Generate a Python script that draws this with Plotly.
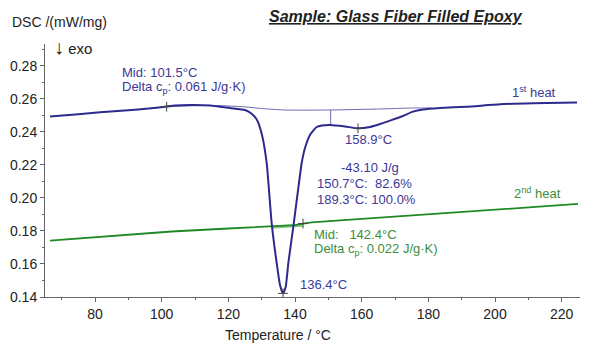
import plotly.graph_objects as go

# ---- data ----
heat1_T = [66.5, 75, 81.5, 90, 96, 101, 104, 108.5, 114.5, 120.5, 125, 127.1, 128.6, 130.1, 131.5,
           133.0, 134.5, 135.5, 136.4, 137.2, 138.0, 139.5, 141.0, 142.0, 143.0, 144.5, 146.5,
           148.1, 150.5, 155.0, 158.9, 162.5, 165.5, 169.1, 172.4, 175.4, 178.4, 183.5, 191.5,
           201.5, 211.4, 224.6]
heat1_v = [0.2493, 0.2507, 0.2519, 0.2532, 0.2542, 0.2553, 0.2560, 0.2564, 0.2561, 0.2545, 0.2533,
           0.2509, 0.2473, 0.2382, 0.2212, 0.1848, 0.1606, 0.1473, 0.1422, 0.1460, 0.1606,
           0.1826, 0.2061, 0.2212, 0.2303, 0.2382, 0.2430, 0.2439, 0.2442, 0.2433, 0.2422,
           0.2430, 0.2448, 0.2473, 0.2497, 0.2523, 0.2536, 0.2545, 0.2553, 0.2568, 0.2574, 0.2578]

base1_T = [101.0, 115.0, 125.0, 130.0, 137.0, 150.0, 165.0, 175.0, 181.0]
base1_v = [0.2553, 0.2561, 0.2552, 0.2542, 0.2533, 0.2533, 0.2539, 0.2545, 0.2545]

partial_T = [150.7, 150.7]
partial_v = [0.2533, 0.2442]

heat2_T = [66.5, 85, 103, 120, 133, 140, 142.4, 145, 160, 180, 200, 224.9]
heat2_v = [0.1741, 0.1768, 0.1797, 0.1815, 0.1828, 0.1836, 0.1845, 0.1852, 0.1873, 0.1900, 0.1929, 0.1964]

tg2_T = [133.0, 142.4]
tg2_v = [0.1823, 0.1835]

marks1_T = [101.5, 136.4, 158.9]
marks1_v = [0.2553, 0.1422, 0.2422]
marks2_T = [142.4]
marks2_v = [0.1845]

x_ticks = [80, 100, 120, 140, 160, 180, 200, 220]
y_ticks = [0.14, 0.16, 0.18, 0.20, 0.22, 0.24, 0.26, 0.28]

BLUE = "#2d2a8e"
BLUE_T = "#3b3896"
THIN = "#6f6bb4"
GREEN = "#1f8a24"
GREEN_T = "#3c8d3c"
FONT = "Liberation Sans, Arial, sans-serif"

fig = go.Figure()
fig.add_trace(go.Scatter(x=base1_T, y=base1_v, mode="lines",
                         line=dict(color=THIN, width=1, shape="spline", smoothing=0.6)))
fig.add_trace(go.Scatter(x=partial_T, y=partial_v, mode="lines", line=dict(color=THIN, width=1)))
fig.add_trace(go.Scatter(x=tg2_T, y=tg2_v, mode="lines", line=dict(color="#8cc98c", width=3)))
fig.add_trace(go.Scatter(x=heat2_T, y=heat2_v, mode="lines", line=dict(color=GREEN, width=1.8)))
fig.add_trace(go.Scatter(x=heat1_T, y=heat1_v, mode="lines",
                         line=dict(color=BLUE, width=2, shape="spline", smoothing=0.5)))
fig.add_trace(go.Scatter(x=marks1_T + marks2_T, y=marks1_v + marks2_v, mode="markers",
                         marker=dict(symbol="cross-thin", size=7, line=dict(color="#444444", width=1))))

def ann(x, y, text, color, xref="x", yref="y", size=13, xanchor="left"):
    fig.add_annotation(x=x, y=y, xref=xref, yref=yref, text=text, showarrow=False,
                       xanchor=xanchor, yanchor="middle", font=dict(family=FONT, size=size, color=color))

ann(87.5, 0.2758, "Mid: 101.5°C", BLUE_T)
ann(87.5, 0.2667, "Delta c<sub>p</sub>: 0.061 J/g·K)", BLUE_T)
ann(204.5, 0.2642, "1<sup>st</sup> heat", BLUE_T)
ann(154.4, 0.2352, "158.9°C", BLUE_T)
ann(153.2, 0.2182, "-43.10 J/g", BLUE_T)
ann(146.0, 0.2085, "150.7°C:  82.6%", BLUE_T)
ann(146.0, 0.1991, "189.3°C: 100.0%", BLUE_T)
ann(205.1, 0.2030, "2<sup>nd</sup> heat", GREEN_T)
ann(145.1, 0.1776, "Mid:   142.4°C", GREEN_T)
ann(145.1, 0.1685, "Delta c<sub>p</sub>: 0.022 J/g·K)", GREEN_T)
ann(140.9, 0.1473, "136.4°C", BLUE_T)

ann(-0.0654, 1.087, "DSC /(mW/mg)", "#222222", xref="paper", yref="paper", size=14)
ann(0.0131, 0.988, "<span style='font-size:20px'>↓</span> exo", "#222222", xref="paper", yref="paper", size=15)
ann(0.436, -0.150, "Temperature / °C", "#222222", xref="paper", yref="paper", size=14, xanchor="center")
ann(0.656, 1.107, "<u><b><i>Sample: Glass Fiber Filled Epoxy</i></b></u>", "#222222",
    xref="paper", yref="paper", size=16, xanchor="center")

fig.update_layout(
    width=591, height=354, margin=dict(l=45, r=11, t=44, b=57),
    paper_bgcolor="white", plot_bgcolor="white", showlegend=False,
    font=dict(family=FONT, size=14, color="#222222"),
)
fig.update_xaxes(range=[65, 225.5], tickvals=x_ticks, ticks="outside", ticklen=4, tickcolor="#666666",
                 showline=True, linecolor="#666666", linewidth=1, showgrid=False, zeroline=False,
                 minor=dict(dtick=10, tick0=0, ticks="outside", ticklen=2, tickcolor="#666666"))
fig.update_yaxes(range=[0.14, 0.2933], tickvals=y_ticks, tickformat=".2f", ticks="outside", ticklen=4,
                 tickcolor="#666666", showline=True, linecolor="#666666", linewidth=1, showgrid=False,
                 zeroline=False,
                 minor=dict(dtick=0.01, tick0=0.14, ticks="outside", ticklen=2, tickcolor="#666666"))

fig.write_html("out.html")
